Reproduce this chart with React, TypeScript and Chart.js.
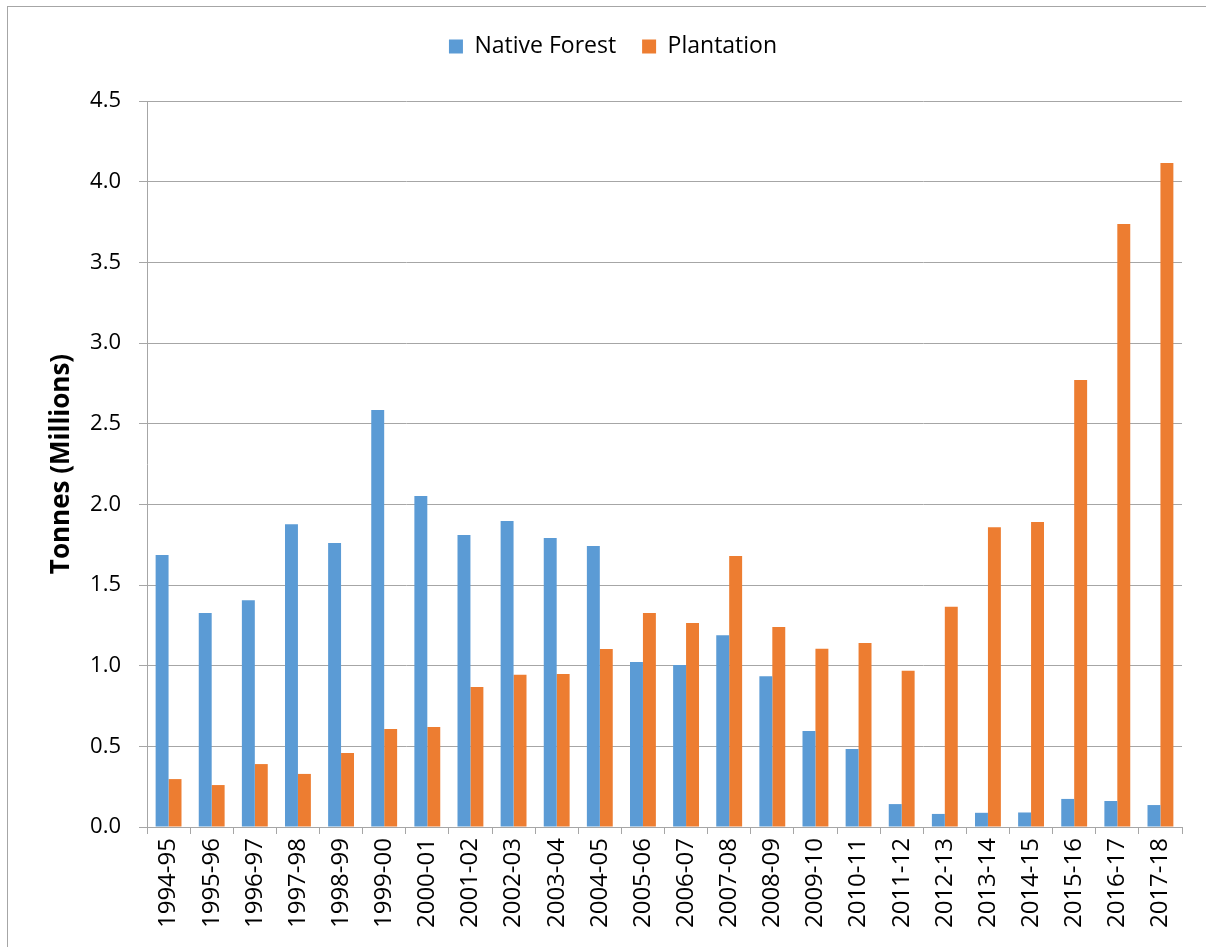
import React, { useEffect, useRef } from "react";
import { Chart, registerables } from "chart.js";

Chart.register(...registerables);

const categories = [
  "1994-95", "1995-96", "1996-97", "1997-98", "1998-99", "1999-00",
  "2000-01", "2001-02", "2002-03", "2003-04", "2004-05", "2005-06",
  "2006-07", "2007-08", "2008-09", "2009-10", "2010-11", "2011-12",
  "2012-13", "2013-14", "2014-15", "2015-16", "2016-17", "2017-18",
];

const nativeForest = [
  1.686, 1.327, 1.405, 1.877, 1.761, 2.585, 2.052, 1.81, 1.896, 1.791,
  1.742, 1.022, 1.004, 1.188, 0.935, 0.595, 0.483, 0.142, 0.081, 0.088,
  0.09, 0.174, 0.161, 0.136,
];

const plantation = [
  0.297, 0.26, 0.39, 0.329, 0.459, 0.608, 0.62, 0.868, 0.943, 0.949,
  1.104, 1.326, 1.265, 1.68, 1.24, 1.105, 1.141, 0.968, 1.365, 1.858,
  1.891, 2.771, 3.738, 4.115,
];

const yMin = 0;
const yMax = 4.5;
const yStep = 0.5;

const FONT = "'Open Sans', 'Noto Sans', sans-serif";
const GRID = "#a6a6a6";

export default function App() {
  const ref = useRef<HTMLCanvasElement | null>(null);

  useEffect(() => {
    document.body.style.margin = "0";
    document.body.style.overflow = "hidden";
    const canvas = ref.current;
    if (!canvas) return;

    const legendHeight = {
      id: "legendHeight",
      beforeInit(chart: any) {
        const fit = chart.legend.fit;
        chart.legend.fit = function () {
          fit.bind(this)();
          this.height = 92;
        };
      },
    };

    const chart = new Chart(canvas, {
      type: "bar",
      data: {
        labels: categories,
        datasets: [
          {
            label: "Native Forest",
            data: nativeForest,
            backgroundColor: "#5B9BD5",
            categoryPercentage: 0.6,
            barPercentage: 1.0,
          },
          {
            label: "Plantation",
            data: plantation,
            backgroundColor: "#ED7D31",
            categoryPercentage: 0.6,
            barPercentage: 1.0,
          },
        ],
      },
      plugins: [legendHeight],
      options: {
        responsive: false,
        animation: false,
        devicePixelRatio: 1,
        layout: { padding: { top: 9, left: 44, right: 24, bottom: 0 } },
        plugins: {
          tooltip: { enabled: false },
          legend: {
            display: true,
            position: "top",
            labels: {
              boxWidth: 14,
              boxHeight: 14,
              padding: 26,
              color: "#000",
              font: { family: FONT, size: 23 },
            },
          },
        },
        scales: {
          x: {
            grid: {
              display: true,
              offset: true,
              drawOnChartArea: false,
              drawTicks: true,
              tickLength: 7,
              color: GRID,
            },
            border: { color: GRID },
            ticks: {
              autoSkip: false,
              maxRotation: 90,
              minRotation: 90,
              padding: 4,
              color: "#000",
              font: { family: FONT, size: 24 },
            },
            afterFit: (s: any) => {
              s.height = 120;
            },
          },
          y: {
            min: yMin,
            max: yMax,
            grid: { color: GRID, tickLength: 8 },
            border: { color: GRID },
            ticks: {
              stepSize: yStep,
              padding: 18,
              color: "#000",
              font: { family: FONT, size: 22 },
              callback: (v: any) => Number(v).toFixed(1),
            },
            title: {
              display: true,
              text: "Tonnes (Millions)",
              color: "#000",
              font: { family: FONT, size: 26, weight: "bold" },
              padding: { top: 2, bottom: 0 },
            },
            afterFit: (s: any) => {
              s.width = 103;
            },
          },
        },
      },
    });

    return () => chart.destroy();
  }, []);

  return (
    <div style={{ position: "relative", width: 1206, height: 947, overflow: "hidden" }}>
      <div
        style={{
          position: "absolute",
          left: 7,
          top: 6,
          width: 1230,
          height: 980,
          border: "1px solid #a6a6a6",
          boxSizing: "border-box",
        }}
      />
      <canvas
        ref={ref}
        width={1206}
        height={947}
        style={{ position: "absolute", left: 0, top: 0, width: 1206, height: 947 }}
      />
    </div>
  );
}
